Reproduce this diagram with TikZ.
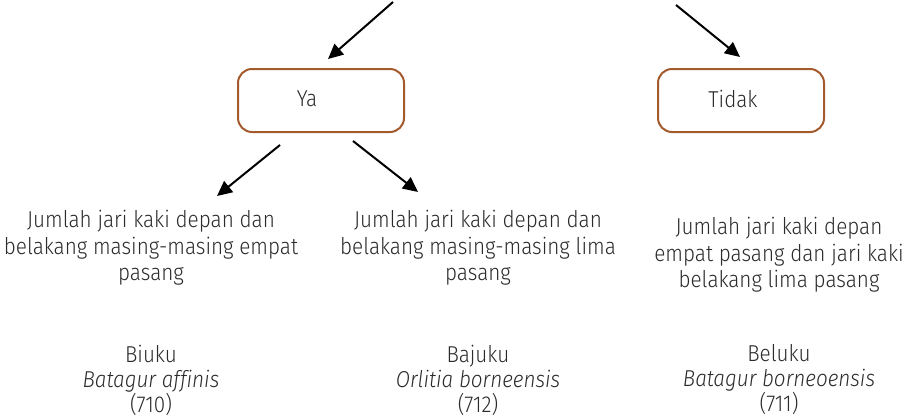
\documentclass[tikz,border=0pt]{standalone}
\usepackage{fontspec}
\setmainfont{Fira Sans Light}[FakeStretch=0.90, Ligatures=NoCommon]
\usetikzlibrary{arrows.meta}
\definecolor{boxbrown}{HTML}{A35A2C}
\definecolor{txt}{HTML}{2B2B2B}
\tikzset{
  choice/.style={draw=boxbrown, line width=2pt, rounded corners=14pt, minimum width=166pt, minimum height=63pt, inner sep=0pt},
  lbl/.style={text=txt, font=\fontsize{23}{26.5}\selectfont, inner sep=0pt, align=center},
  sp/.style={text=txt, font=\fontsize{23}{25}\selectfont, inner sep=0pt, align=center},
  arr/.style={line width=2pt, -{Triangle[length=15pt,width=14pt]}},
}
\begin{document}
\begin{tikzpicture}[x=1pt,y=-1pt]
\useasboundingbox (0,0) rectangle (912,415);
% boxes
\node[choice] (ya) at (321,100.5) {};
\node[lbl] (yat) at (307,99) {Ya};
\node[choice] (tidak) at (741,100.5) {};
\node[lbl] (tidakt) at (733,99) {Tidak};
% arrow endpoints
\coordinate (a1s) at (393,2);
\coordinate (a1e) at (328,59);
\coordinate (a2s) at (676,5);
\coordinate (a2e) at (740,57);
\coordinate (a3s) at (280,145);
\coordinate (a3e) at (217,196);
\coordinate (a4s) at (353,141);
\coordinate (a4e) at (418,192);
\draw[arr] (a1s) -- (a1e);
\draw[arr] (a2s) -- (a2e);
\draw[arr] (a3s) -- (a3e);
\draw[arr] (a4s) -- (a4e);
% descriptions
\node[lbl] (d1) at (151,248) {Jumlah jari kaki depan dan\\belakang masing-masing empat\\pasang};
\node[lbl] (d2) at (478,248) {Jumlah jari kaki depan dan\\belakang masing-masing lima\\pasang};
\node[lbl] (d3) at (779,255) {Jumlah jari kaki depan\\empat pasang dan jari kaki\\belakang lima pasang};
% species
\node[sp] (s1) at (151,380) {Biuku\\\textit{Batagur affinis}\\(710)};
\node[sp] (s2) at (478,380) {Bajuku\\\textit{Orlitia borneensis}\\(712)};
\node[sp] (s3) at (779,380) {Beluku\\\textit{Batagur borneoensis}\\(711)};
\end{tikzpicture}
\end{document}
